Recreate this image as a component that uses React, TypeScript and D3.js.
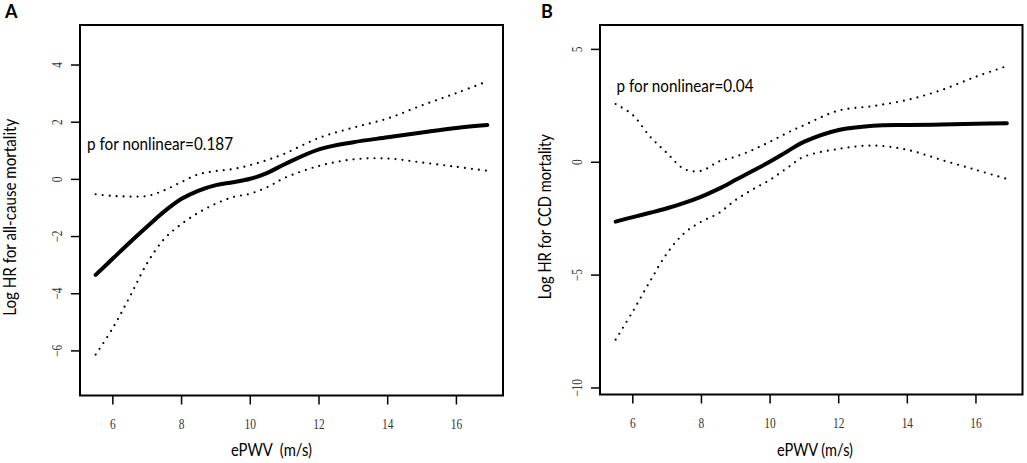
import * as d3 from "d3";

const ePWV = [5.5, 6, 6.5, 7, 7.5, 8, 8.5, 9, 9.5, 10, 10.5, 11, 12, 13, 14, 15, 16, 16.9];

// Panel A: all-cause mortality
const allCauseFit = [-3.34, -2.77, -2.2, -1.65, -1.12, -0.68, -0.39, -0.2, -0.1, 0.02, 0.23, 0.53, 1.05, 1.3, 1.47, 1.64, 1.8, 1.9];
const allCauseUpper = [-0.52, -0.58, -0.6, -0.58, -0.38, -0.09, 0.18, 0.29, 0.36, 0.5, 0.68, 0.9, 1.45, 1.81, 2.13, 2.59, 3.02, 3.43];
const allCauseLower = [-6.13, -5.2, -4.09, -2.93, -2.08, -1.56, -1.16, -0.85, -0.62, -0.5, -0.27, 0.05, 0.47, 0.7, 0.73, 0.59, 0.44, 0.3];

// Panel B: CCD mortality
const ccdFit = [-2.63, -2.43, -2.24, -2.04, -1.8, -1.52, -1.18, -0.78, -0.38, 0.03, 0.48, 0.91, 1.43, 1.62, 1.65, 1.67, 1.7, 1.73];
const ccdUpper = [2.58, 2.09, 1.14, 0.4, -0.3, -0.38, 0.03, 0.25, 0.55, 0.91, 1.3, 1.65, 2.29, 2.49, 2.76, 3.2, 3.79, 4.26];
const ccdLower = [-7.86, -6.61, -5.28, -4.03, -3.14, -2.63, -2.26, -1.67, -1.2, -0.78, -0.25, 0.25, 0.59, 0.74, 0.55, 0.1, -0.34, -0.74];

const xTicks = [6, 8, 10, 12, 14, 16];
const allCauseTicks = [-6, -4, -2, 0, 2, 4];
const ccdTicks = [-10, -5, 0, 5];

const SANS = "Lato, 'Noto Sans', sans-serif";
const SERIF = "'Liberation Serif', 'DejaVu Serif', serif";

interface PanelProps {
  letter: string;
  letterX: number;
  box: { left: number; top: number; right: number; bottom: number };
  yDomain: [number, number];
  yTicks: number[];
  fit: number[];
  upper: number[];
  lower: number[];
  yLabel: string;
  yLabelX: number;
  yLabelLen: number;
  xLabel: string;
  xLabelX: number;
  xLabelLen: number;
  note: string;
  noteX: number;
  noteY: number;
  noteLen: number;
}

function Panel(p: PanelProps) {
  const { box } = p;
  // R pads the data range by 4% on each side
  const pad = (16.9 - 5.5) * 0.04;
  const x = d3.scaleLinear().domain([5.5 - pad, 16.9 + pad]).range([box.left, box.right]);
  const y = d3.scaleLinear().domain(p.yDomain).range([box.bottom, box.top]);

  const line = d3
    .line<number>()
    .x((_, i) => x(ePWV[i]))
    .y((d) => y(d))
    .curve(d3.curveCatmullRom.alpha(0.5));

  const midY = (box.top + box.bottom) / 2;

  return (
    <g>
      <text x={p.letterX} y={18} fontFamily={SANS} fontWeight="bold" fontSize={18}>
        {p.letter}
      </text>

      {[p.lower, p.upper].map((band, i) => (
        <path key={i} d={line(band) ?? ""} fill="none" stroke="#000" strokeWidth={2.2}
          strokeLinecap="round" strokeDasharray="0 7" />
      ))}
      <path d={line(p.fit) ?? ""} fill="none" stroke="#000" strokeWidth={4} strokeLinecap="round" />

      <rect x={box.left} y={box.top} width={box.right - box.left} height={box.bottom - box.top}
        fill="none" stroke="#000" strokeWidth={2} />

      {xTicks.map((t) => (
        <g key={"x" + t}>
          <line x1={x(t)} x2={x(t)} y1={box.bottom} y2={box.bottom + 9} stroke="#000" strokeWidth={1.5} />
          <text transform={`translate(${x(t)},${box.bottom + 33}) scale(0.76,1)`} textAnchor="middle"
            fontFamily={SERIF} fontSize={15} fill="#333">{t}</text>
        </g>
      ))}

      {p.yTicks.map((t) => (
        <g key={"y" + t}>
          <line x1={box.left - 9} x2={box.left} y1={y(t)} y2={y(t)} stroke="#000" strokeWidth={1.5} />
          <text transform={`translate(${box.left - 18},${y(t)}) rotate(-90) scale(0.76,1)`} textAnchor="middle"
            fontFamily={SERIF} fontSize={15} fill="#333">
            {t < 0 ? "\u2212" + Math.abs(t) : t}
          </text>
        </g>
      ))}

      <text x={p.xLabelX} y={456} textAnchor="middle" fontFamily={SANS} fontSize={17}
        textLength={p.xLabelLen} lengthAdjust="spacingAndGlyphs"
        style={{ whiteSpace: "pre" }}>{p.xLabel}</text>
      <text transform={`translate(${p.yLabelX},${midY + 7}) rotate(-90)`} textAnchor="middle"
        fontFamily={SANS} fontSize={16.5} textLength={p.yLabelLen} lengthAdjust="spacingAndGlyphs">
        {p.yLabel}
      </text>
      <text x={p.noteX} y={p.noteY} fontFamily={SANS} fontSize={17.5} textLength={p.noteLen}
        lengthAdjust="spacingAndGlyphs">{p.note}</text>
    </g>
  );
}

export default function App() {
  return (
    <svg width={1027} height={463} style={{ position: "absolute", left: 0, top: 0, background: "#fff" }}>
      <Panel
        letter="A"
        letterX={5}
        box={{ left: 80, top: 25, right: 503, bottom: 395.5 }}
        yDomain={[-7.56, 5.4]}
        yTicks={allCauseTicks}
        fit={allCauseFit}
        upper={allCauseUpper}
        lower={allCauseLower}
        yLabel="Log HR for all-cause mortality"
        yLabelX={16}
        yLabelLen={197}
        xLabel="ePWV  (m/s)"
        xLabelX={271.5}
        xLabelLen={81}
        note="p for nonlinear=0.187"
        noteX={87}
        noteY={150}
        noteLen={146}
      />
      <Panel
        letter="B"
        letterX={541}
        box={{ left: 600, top: 25, right: 1022.5, bottom: 394.5 }}
        yDomain={[-10.29, 6.08]}
        yTicks={ccdTicks}
        fit={ccdFit}
        upper={ccdUpper}
        lower={ccdLower}
        yLabel="Log HR for CCD mortality"
        yLabelX={551}
        yLabelLen={165}
        xLabel="ePWV (m/s)"
        xLabelX={815}
        xLabelLen={76}
        note="p for nonlinear=0.04"
        noteX={616.5}
        noteY={92}
        noteLen={137}
      />
    </svg>
  );
}
